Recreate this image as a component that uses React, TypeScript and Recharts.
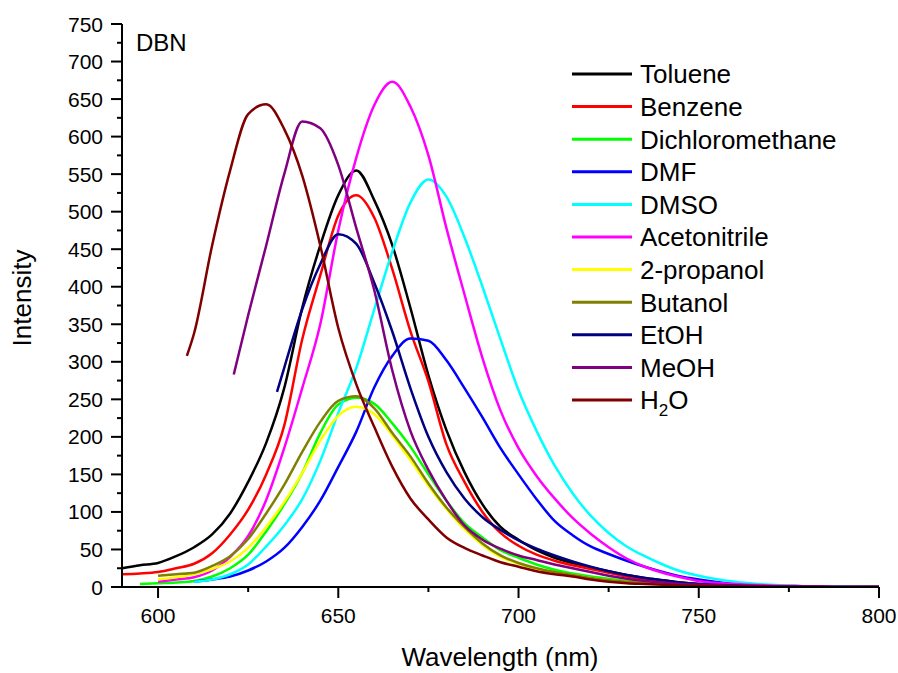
import { LineChart, Line, XAxis, YAxis } from "recharts";

const _ = null;
const FONT = '"Liberation Sans", Arial, sans-serif';

// emission wavelength grid (nm)
const wavelength = [590, 595, 600, 605, 608, 610, 615, 620, 621, 625, 630, 633, 635, 640, 645, 650, 655, 660, 665, 670, 675, 680, 685, 690, 695, 700, 705, 710, 715, 720, 725, 730, 735, 740, 745, 750, 760, 770, 780, 790, 800];

const toluene = [25, 29, 32, 41, _, 53, 70, 98, _, 140, 192, _, 265, 372, 455, 522, 555, 515, 455, 372, 282, 209, 153, 110, 80, 63, 49, 39, 32, 26, 21, 16, 12, 9, 6, 4, 2, 1, 0.5, 0, 0];
const benzene = [17, 18, 20, 25, _, 31, 45, 70, _, 103, 150, _, 215, 330, 415, 495, 522, 492, 423, 341, 274, 190, 140, 100, 72, 55, 43, 35, 29, 24, 19, 14, 10, 7, 5, 3, 2, 1, 0.5, 0, 0];
const dichloromethane = [_, 4, 5, 6, _, 8, 14, 25, _, 43, 74, _, 110, 152, 205, 243, 252, 244, 218, 187, 150, 115, 85, 66, 49, 39, 30, 23, 18, 14, 11, 8, 6, 4, 3, 2, _, _, _, _, _];
const dmf = [_, _, _, _, _, 7, 10, 14, _, 22, 34, _, 52, 80, 115, 160, 207, 266, 308, 331, 328, 302, 265, 226, 185, 150, 117, 88, 69, 54, 44, 35, 27, 20, 14, 10, 4, 2, 1, 0, 0];
const dmso = [_, _, _, _, _, 7, 10, 17, _, 30, 54, _, 82, 117, 168, 232, 292, 370, 447, 512, 543, 520, 466, 400, 330, 262, 208, 162, 125, 95, 72, 54, 41, 30, 21, 15, 7, 3, 1, 0.5, 0];
const acetonitrile = [_, _, 7, 10, _, 13, 22, 40, _, 68, 116, _, 185, 265, 350, 475, 572, 642, 673, 640, 575, 478, 390, 305, 235, 185, 148, 118, 92, 71, 53, 38, 27, 19, 13, 8, 4, 2, 1, 0, 0];
const propanol2 = [_, _, 10, 13, _, 17, 24, 34, _, 52, 80, _, 113, 152, 195, 228, 240, 230, 202, 169, 135, 104, 77, 56, 40, 31, 24, 19, 16, 12, 9, 7, 5, 4, 3, 2, _, _, _, _, _];
const butanol = [_, _, 15, 17, _, 19, 28, 41, _, 64, 98, _, 136, 180, 220, 248, 254, 238, 205, 174, 138, 106, 80, 58, 42, 32, 25, 20, 16, 12, 9, 7, 5, 4, 3, 2, _, _, _, _, _];
const etoh = [_, _, _, _, _, _, _, _, _, _, _, 260, 292, 370, 430, 470, 457, 405, 340, 265, 200, 153, 118, 93, 76, 62, 51, 42, 34, 27, 21, 16, 12, 9, 6, 4, 2, 1, 0.5, 0, 0];
const meoh = [_, _, _, _, _, _, _, _, 283, 362, 455, _, 550, 620, 611, 562, 478, 395, 288, 208, 156, 115, 82, 63, 51, 42, 36, 30, 25, 20, 15, 11, 8, 6, 4, 3, 1.5, 1, 0.5, 0, 0];
const h2o = [_, _, _, _, 308, 338, 455, 555, _, 630, 643, _, 610, 548, 455, 345, 270, 213, 160, 118, 90, 66, 52, 42, 33, 27, 21, 17, 14, 10, 7, 5, 4, 3, 2, 1.5, 1, 0.5, 0, 0, 0];

const solvents = ["Toluene", "Benzene", "Dichloromethane", "DMF", "DMSO", "Acetonitrile", "2-propanol", "Butanol", "EtOH", "MeOH", "H2O"];
const intensities = [toluene, benzene, dichloromethane, dmf, dmso, acetonitrile, propanol2, butanol, etoh, meoh, h2o];
const colors = ["#000000", "#ff0000", "#00ff00", "#0000ff", "#00ffff", "#ff00ff", "#ffff00", "#808000", "#000080", "#800080", "#800000"];

const xTicks = [600, 625, 650, 675, 700, 725, 750, 775, 800];
const yTicks = [0, 25, 50, 75, 100, 125, 150, 175, 200, 225, 250, 275, 300, 325, 350, 375, 400, 425, 450, 475, 500, 525, 550, 575, 600, 625, 650, 675, 700, 725, 750];

const data = wavelength.map((wl, i) => {
  const row: any = { wl };
  solvents.forEach((s, k) => {
    row[s] = intensities[k][i];
  });
  return row;
});

function YTick(props: any) {
  const { x, y, payload } = props;
  const v = payload.value;
  const major = v % 50 === 0;
  const ax = x + 19;
  return (
    <g>
      <line x1={ax - (major ? 11 : 5)} x2={ax} y1={y} y2={y} stroke="#000" strokeWidth={2} />
      {major && (
        <text x={x} y={y + 7.5} textAnchor="end" fontSize={21} fontFamily={FONT} fill="#000">
          {v}
        </text>
      )}
    </g>
  );
}

function XTick(props: any) {
  const { x, y, payload } = props;
  const v = payload.value;
  const major = v % 50 === 0;
  const ay = y - 15;
  return (
    <g>
      <line x1={x} x2={x} y1={ay} y2={ay + (major ? 11 : 5)} stroke="#000" strokeWidth={2} />
      {major && (
        <text x={x} y={ay + 36} textAnchor="middle" fontSize={21} fontFamily={FONT} fill="#000">
          {v}
        </text>
      )}
    </g>
  );
}

export default function App() {
  return (
    <div style={{ position: "absolute", left: 0, top: 0, width: 898, height: 673, background: "#fff" }}>
      <LineChart width={898} height={673} data={data} margin={{ top: 24, right: 19, bottom: 46, left: 52 }}>
        <XAxis
          dataKey="wl"
          type="number"
          domain={[590, 800]}
          ticks={xTicks}
          interval={0}
          allowDataOverflow
          height={40}
          tickSize={11}
          tickMargin={4}
          tickLine={false}
          axisLine={{ stroke: "#000", strokeWidth: 2 }}
          tick={XTick}
        />
        <YAxis
          type="number"
          domain={[0, 750]}
          ticks={yTicks}
          interval={0}
          allowDataOverflow
          width={70}
          tickSize={11}
          tickMargin={8}
          tickLine={false}
          axisLine={{ stroke: "#000", strokeWidth: 2 }}
          tick={YTick}
        />
        {solvents.map((s, k) => (
          <Line
            key={s}
            dataKey={s}
            type="monotone"
            stroke={colors[k]}
            strokeWidth={2.5}
            dot={false}
            connectNulls
            isAnimationActive={false}
          />
        ))}
      </LineChart>
      <svg
        width={898}
        height={673}
        style={{ position: "absolute", left: 0, top: 0, pointerEvents: "none" }}
        fontFamily={FONT}
      >
        <text x={136} y={51} fontSize={24} fill="#000">DBN</text>
        {solvents.map((s, k) => {
          const cy = 74 + k * 32.6;
          return (
            <g key={s}>
              <line x1={572} x2={632} y1={cy} y2={cy} stroke={colors[k]} strokeWidth={3} />
              {s === "H2O" ? (
                <text x={640} y={cy + 9.3} fontSize={26} fill="#000">
                  H<tspan fontSize={17} dy={7}>2</tspan><tspan dy={-7}>O</tspan>
                </text>
              ) : (
                <text x={640} y={cy + 9.3} fontSize={26} fill="#000">{s}</text>
              )}
            </g>
          );
        })}
        <text x={500} y={666} textAnchor="middle" fontSize={26} fill="#000">Wavelength (nm)</text>
        <text x={31} y={298} textAnchor="middle" fontSize={26} fill="#000" transform="rotate(-90 31 298)">Intensity</text>
      </svg>
    </div>
  );
}
